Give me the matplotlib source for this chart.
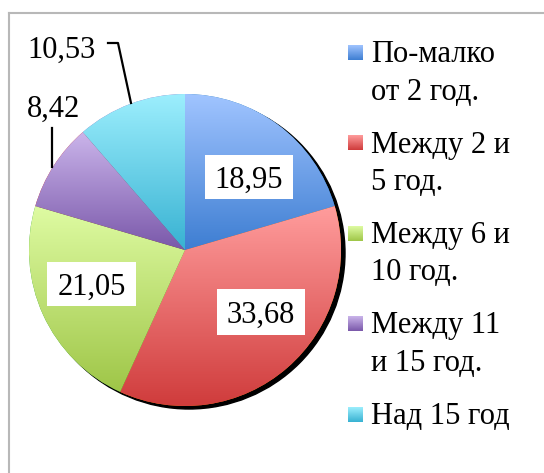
import numpy as np
import matplotlib.pyplot as plt
from matplotlib.colors import LinearSegmentedColormap
from matplotlib.patches import Circle, Rectangle

plt.rcParams["font.family"] = ["Liberation Serif", "DejaVu Serif"]

# данни
categories = [["По-малко", "от 2 год."], ["Между 2 и", "5 год."], ["Между 6 и", "10 год."],
              ["Между 11", "и 15 год."], ["Над 15 год"]]
values = [18.95, 33.68, 21.05, 8.42, 10.53]
labels = ["18,95", "33,68", "21,05", "8,42", "10,53"]
top_colors = ["#a0c4ff", "#ff9c9c", "#defba2", "#cab4ea", "#9ceefd"]
bottom_colors = ["#3e7ed2", "#cf3b3b", "#9fc648", "#7a58aa", "#38b2d2"]

W, H = 544, 473
fig = plt.figure(figsize=(W / 100, H / 100), dpi=100)
ax = fig.add_axes([0, 0, 1, 1])


def py(y):
    # пиксели отгоре -> координати отдолу
    return H - y


def gradient(ax, x0, x1, y0, y1, c_top, c_bot, clip=None, z=3):
    cmap = LinearSegmentedColormap.from_list("g", [c_top, c_bot])
    g = np.linspace(0, 1, 100).reshape(-1, 1)
    im = ax.imshow(g, cmap=cmap, extent=(x0, x1, y0, y1), origin="upper",
                   aspect="auto", zorder=z, interpolation="bilinear")
    if clip is not None:
        im.set_clip_path(clip)
    return im


cx, cy, r = 185, py(250), 156

# сянка
ax.add_patch(Circle((cx + 4, cy - 3), r, color="black", zorder=1))

wedges, _ = ax.pie(values, startangle=90, counterclock=False, center=(cx, cy),
                   radius=r, frame=True)
for w, ct, cb in zip(wedges, top_colors, bottom_colors):
    w.set_zorder(2)
    v = w.get_path().vertices
    gradient(ax, v[:, 0].min(), v[:, 0].max(), v[:, 1].min(), v[:, 1].max(), ct, cb, clip=w)

# етикети в бели кутии
boxes = [(205, 155, 88, 44), (217, 289, 88, 46), (47, 262, 89, 44)]
label_pos = [(249, 188), (261, 323), (91.5, 295), (53, 117), (62, 58)]
for i, (x, yb) in enumerate(label_pos):
    if i < 3:
        bx, by, bw, bh = boxes[i]
        ax.add_patch(Rectangle((bx, py(by + bh)), bw, bh, facecolor="white",
                               edgecolor="none", zorder=5))
    ax.text(x, py(yb), labels[i], fontsize=22, ha="center", va="baseline", zorder=6)

# линии към етикетите
ax.plot([52, 52], [py(128), py(167)], color="black", lw=1.6, zorder=6)
ax.plot([108, 118, 131], [py(43), py(43), py(103)], color="black", lw=1.6, zorder=6)

# легенда
base0 = 62
for i, lines in enumerate(categories):
    b = base0 + i * 90.5
    gradient(ax, 348, 363, py(b - 2), py(b - 17), top_colors[i], bottom_colors[i], z=4)
    for j, t in enumerate(lines):
        ax.text(371, py(b + j * 37.5), t, fontsize=22, ha="left", va="baseline")

# рамка
ax.plot([9, 9], [py(13), py(473)], color="#b8b8b8", lw=1.5)
ax.plot([9, 544], [py(13), py(13)], color="#b8b8b8", lw=1.5)

ax.set_xlim(0, W)
ax.set_ylim(0, H)
ax.axis("off")
fig.savefig("out.png", dpi=100)
